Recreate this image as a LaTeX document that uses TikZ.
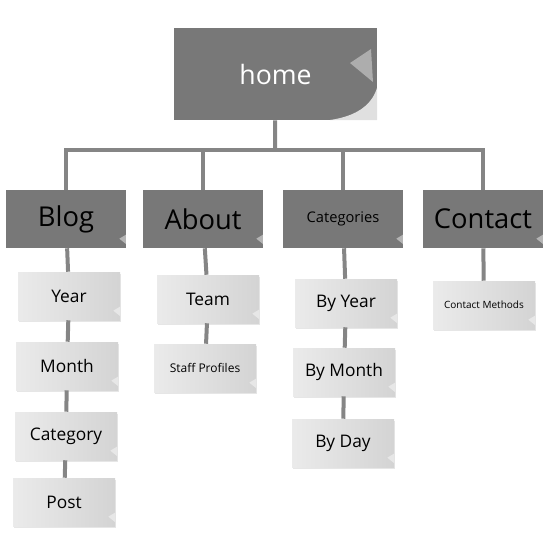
\documentclass[tikz,border=0pt]{standalone}
\usepackage{fontspec}
\setmainfont{Open Sans}
\usetikzlibrary{positioning,shadows}

\definecolor{boxdark}{gray}{0.47}
\definecolor{linegray}{gray}{0.52}

\tikzset{
  curl/.style={path picture={
    \fill[white,opacity=0.45] ([shift={(-5pt,7pt)}]path picture bounding box.south east)
      -- ([shift={(0pt,10pt)}]path picture bounding box.south east)
      -- ([shift={(0pt,3pt)}]path picture bounding box.south east) -- cycle;}},
  mainbox/.style={rectangle,inner sep=0pt,fill=boxdark,minimum width=90pt,minimum height=43.5pt,curl},
  subbox/.style={rectangle,inner sep=0pt,left color=black!8,right color=black!17,minimum width=76.5pt,minimum height=36pt,
    drop shadow={opacity=0.2,shadow xshift=1pt,shadow yshift=-1.5pt},curl},
  link/.style={draw=linegray,line width=3pt},
  bigtext/.style={font=\fontsize{20.5}{24}\selectfont},
  subtext/.style={font=\fontsize{13}{15}\selectfont}
}

\begin{document}
\begin{tikzpicture}[x=0.75pt,y=-0.75pt]
\useasboundingbox (0,0) rectangle (550,550);

% top of the tree
\node[rectangle,inner sep=0pt,fill=boxdark,minimum width=152pt,minimum height=69pt,text=white,font=\fontsize{20}{24}\selectfont] (home) at (275.5,74) {home};
\fill[black!12] (330,120) .. controls (358,116) and (372,104) .. (377,88) -- (377,120) -- cycle;
\fill[black!32] (350,63) -- (371,49) -- (373,82) -- cycle;
\coordinate (hub) at (275,150);

% first level
\node[mainbox,bigtext] (blog) at (66,219) {Blog};
\node[mainbox,bigtext] (about) at (203,219) {About};
\node[mainbox,font=\fontsize{11}{13}\selectfont] (categories) at (343,219) {Categories};
\node[mainbox,bigtext] (contact) at (483,219) {Contact};

% second level
\node[subbox,subtext] (year) at (69,296) {Year};
\node[subbox,subtext] (month) at (67,366) {Month};
\node[subbox,subtext] (category) at (66,436) {Category};
\node[subbox,subtext] (post) at (64,502) {Post};
\node[subbox,subtext] (team) at (208,299) {Team};
\node[subbox,font=\fontsize{9}{11}\selectfont] (staff) at (205,368) {Staff Profiles};
\node[subbox,subtext] (byyear) at (346,303) {By Year};
\node[subbox,subtext] (bymonth) at (344,372) {By Month};
\node[subbox,subtext] (byday) at (343,443) {By Day};
\node[subbox,font=\fontsize{7.5}{9}\selectfont] (methods) at (484,305) {Contact Methods};

% connectors
\draw[link] (home) -- (hub);
\draw[link] (blog) |- (hub) -| (contact);
\draw[link] (about) -- (about |- hub);
\draw[link] (categories) -- (categories |- hub);
\draw[link] (blog) -- (year) -- (month) -- (category) -- (post);
\draw[link] (about) -- (team) -- (staff);
\draw[link] (categories) -- (byyear) -- (bymonth) -- (byday);
\draw[link] (contact) -- (methods);

\end{tikzpicture}
\end{document}
